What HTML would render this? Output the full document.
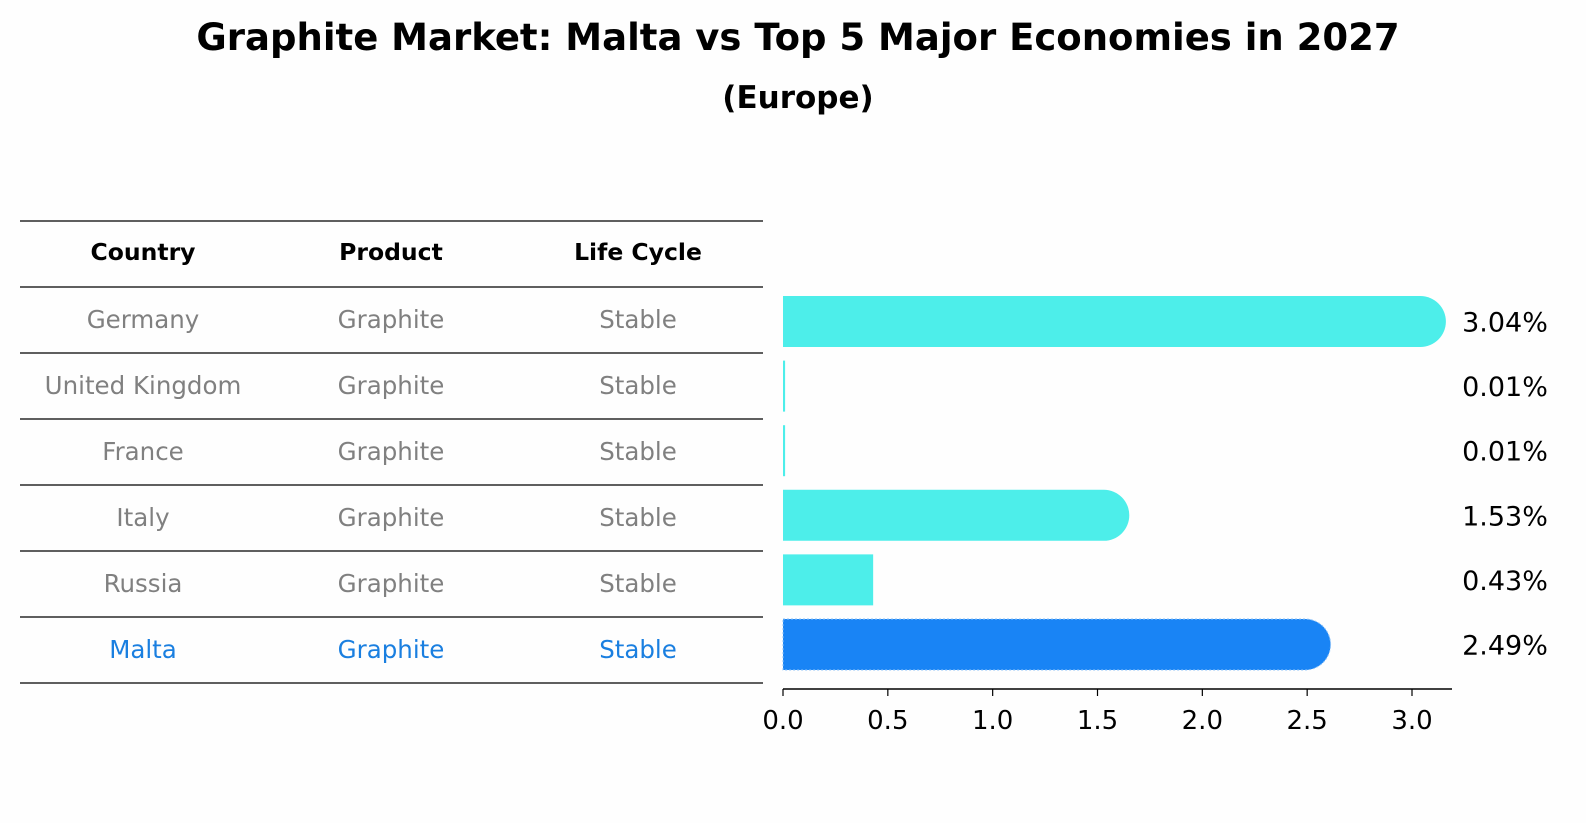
<!DOCTYPE html>
<html><head><meta charset="utf-8"><style>
body{margin:0;background:#fefefe;font-family:"DejaVu Sans","Liberation Sans",sans-serif;}
#wrap{position:relative;width:1586px;height:823px;overflow:hidden;}
</style></head><body>
<div id="wrap">
<svg id="svg" width="1586" height="823" xmlns="http://www.w3.org/2000/svg">
<text x="798" y="50" text-anchor="middle" font-size="37" font-weight="bold" fill="#000">Graphite Market: Malta vs Top 5 Major Economies in 2027</text>
<text x="798" y="108" text-anchor="middle" font-size="31" font-weight="bold" fill="#000">(Europe)</text>
<g id="table"></g>
<g id="bars"></g>
</svg>
</div>
<script>
const countries=["Germany","United Kingdom","France","Italy","Russia","Malta"];
const products=["Graphite","Graphite","Graphite","Graphite","Graphite","Graphite"];
const lifecycle=["Stable","Stable","Stable","Stable","Stable","Stable"];
const values=[3.04,0.01,0.01,1.53,0.43,2.49];
const valueLabels=["3.04%","0.01%","0.01%","1.53%","0.43%","2.49%"];
const xTicks=[0,0.5,1,1.5,2,2.5,3];
const xTickLabels=["0.0","0.5","1.0","1.5","2.0","2.5","3.0"];

const NS="http://www.w3.org/2000/svg";
function mk(tag,attrs,parent,text){const e=document.createElementNS(NS,tag);for(const k in attrs)e.setAttribute(k,attrs[k]);if(text!==undefined)e.textContent=text;parent.appendChild(e);return e;}
const x0=783,x3=1412;
const xs=v=>x0+(x3-x0)*v/3;
const rowY=i=>321.5+i*64.6;
const tbl=document.getElementById('table');
const lineYs=[221,287];
for(let i=0;i<countries.length;i++)lineYs.push(287+(i+1)*66);
lineYs.forEach((y,i)=>{const l=mk('line',{x1:20,x2:763,y1:y,y2:y,stroke:'#000','stroke-width':1.2},tbl);

});
const cols=[143,391,638];
["Country","Product","Life Cycle"].forEach((h,j)=>{const t=mk('text',{x:cols[j],y:260,'text-anchor':'middle','font-size':23.5,'font-weight':'bold',fill:'#000'},tbl,h);

});
for(let i=0;i<countries.length;i++){
 const y=320+i*66+8;const c=i===countries.length-1?'#1a7fe0':'#808080';
 [countries[i],products[i],lifecycle[i]].forEach((v,j)=>{const t=mk('text',{x:cols[j],y:y,'text-anchor':'middle','font-size':24.5,fill:c},tbl,v);
 
 });
}
const g=document.getElementById('bars');
const h=51;
values.forEach((v,i)=>{
 const cy=rowY(i),top=cy-h/2,xe=xs(v),r=h/2;
 const malta=i===values.length-1;
 const fill=malta?'#1984f5':'#4deeea';
 let d;
 if(v>=0.4&&v!==0.43){d=`M${x0},${top} H${xe} A${r},${r} 0 0 1 ${xe},${top+h} H${x0} Z`;}
 else{d=`M${x0},${top} H${Math.max(xe,x0+2)} V${top+h} H${x0} Z`;}
 const p=mk('path',{d:d,fill:fill},g);
 if(malta){p.setAttribute('stroke','#8fc3f7');p.setAttribute('stroke-dasharray','2,2');p.setAttribute('stroke-width','1');}
 
 
 const t=mk('text',{x:1505,y:cy+10,'text-anchor':'middle','font-size':27,fill:'#000'},g,valueLabels[i]);
 
 
});
const ax=mk('line',{x1:x0,x2:1452,y1:689,y2:689,stroke:'#000','stroke-width':1.5},g);


xTicks.forEach((v,i)=>{
 const tk=mk('line',{x1:xs(v),x2:xs(v),y1:689,y2:696,stroke:'#000','stroke-width':1.2},g);
 
 
 const t=mk('text',{x:xs(v),y:729,'text-anchor':'middle','font-size':26,fill:'#000'},g,xTickLabels[i]);
 
 
});
</script>
</body></html>
